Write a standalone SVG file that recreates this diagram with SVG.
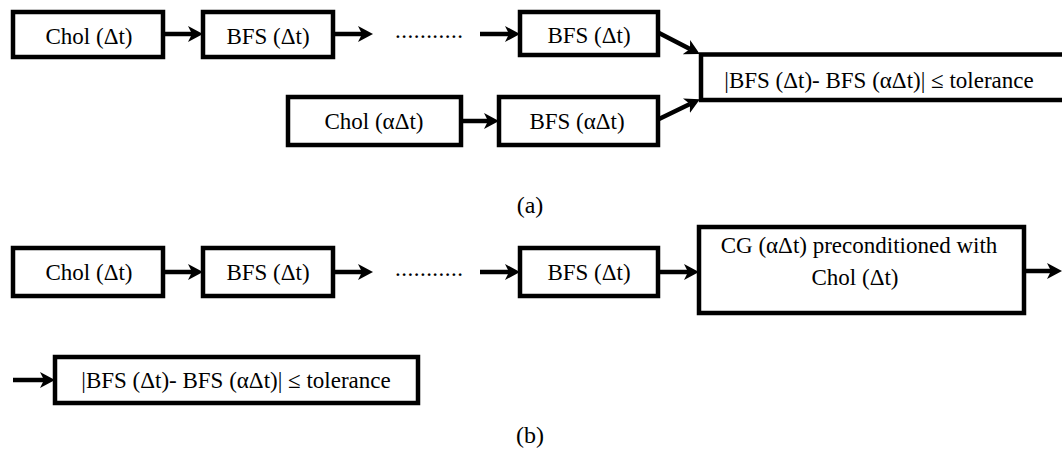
<svg xmlns="http://www.w3.org/2000/svg" width="1062" height="456" viewBox="0 0 1062 456" font-family="Liberation Serif, Times New Roman, serif">
<defs>
<marker id="ah" markerUnits="userSpaceOnUse" viewBox="0 -8 15 16" refX="4" refY="0" markerWidth="15" markerHeight="16" orient="auto">
<path d="M0,-8 L15,0 L0,8 L4,0 Z" fill="#000"/>
</marker>
</defs>
<style>
.box{fill:#fff;stroke:#000;stroke-width:4.5}
.t{font-size:23px;fill:#000;text-anchor:middle}
.lab{font-size:24px;fill:#000;text-anchor:middle}
.c{stroke:#000;stroke-width:4.5;fill:none;marker-end:url(#ah)}
</style>
<rect width="1062" height="456" fill="#fff"/>
<g id="connectors">
<line class="c" x1="163" y1="34" x2="192" y2="34"/>
<line class="c" x1="333" y1="34" x2="362" y2="34"/>
<line class="c" x1="480" y1="34" x2="509" y2="34"/>
<line class="c" x1="461" y1="121" x2="488" y2="121"/>
<line class="c" x1="659" y1="33" x2="690" y2="49"/>
<line class="c" x1="659" y1="119" x2="690" y2="104"/>
<line class="c" x1="163" y1="272" x2="192" y2="272"/>
<line class="c" x1="333" y1="272" x2="362" y2="272"/>
<line class="c" x1="480" y1="272" x2="509" y2="272"/>
<line class="c" x1="658" y1="272" x2="688" y2="272"/>
<line class="c" x1="1024" y1="271" x2="1051" y2="271"/>
<line class="c" x1="13" y1="380" x2="44" y2="380"/>
</g>
<g id="a_chol"><rect class="box" x="13" y="12" width="150" height="45"/><text class="t" font-family="Liberation Serif, serif" x="89" y="44">Chol (Δt)</text></g>
<g id="a_bfs1"><rect class="box" x="203" y="12" width="130" height="45"/><text class="t" font-family="Liberation Serif, serif" x="268" y="44">BFS (Δt)</text></g>
<g id="a_dots"><text class="t" font-family="Liberation Serif, serif" x="429" y="38" textLength="68" lengthAdjust="spacing">...........</text></g>
<g id="a_bfs3"><rect class="box" x="520" y="12" width="138" height="43"/><text class="t" font-family="Liberation Serif, serif" x="589" y="43">BFS (Δt)</text></g>
<g id="a_chola"><rect class="box" x="288" y="97" width="173" height="48"/><text class="t" font-family="Liberation Serif, serif" x="374" y="129">Chol (αΔt)</text></g>
<g id="a_bfsa"><rect class="box" x="499" y="97" width="159" height="48"/><text class="t" font-family="Liberation Serif, serif" x="577" y="129">BFS (αΔt)</text></g>
<g id="a_tol"><rect class="box" x="701" y="54.5" width="380" height="45.5"/><text class="t" font-family="Liberation Serif, serif" x="879" y="88">|BFS (Δt)- BFS (αΔt)| ≤ tolerance</text></g>
<g id="label_a"><text class="lab" font-family="Liberation Serif, serif" x="530" y="213">(a)</text></g>
<g id="b_chol"><rect class="box" x="13" y="248" width="150" height="48"/><text class="t" font-family="Liberation Serif, serif" x="89" y="280">Chol (Δt)</text></g>
<g id="b_bfs1"><rect class="box" x="203" y="248" width="130" height="48"/><text class="t" font-family="Liberation Serif, serif" x="268" y="280">BFS (Δt)</text></g>
<g id="b_dots"><text class="t" font-family="Liberation Serif, serif" x="429" y="276" textLength="68" lengthAdjust="spacing">...........</text></g>
<g id="b_bfs3"><rect class="box" x="520" y="248" width="138" height="48"/><text class="t" font-family="Liberation Serif, serif" x="589" y="280">BFS (Δt)</text></g>
<g id="b_cg"><rect class="box" x="699" y="227" width="325" height="86"/><text class="t" font-family="Liberation Serif, serif" x="859" y="253">CG (αΔt) preconditioned with</text><text class="t" font-family="Liberation Serif, serif" x="855" y="285">Chol (Δt)</text></g>
<g id="b_tol"><rect class="box" x="55" y="357" width="363" height="46"/><text class="t" font-family="Liberation Serif, serif" x="236" y="388">|BFS (Δt)- BFS (αΔt)| ≤ tolerance</text></g>
<g id="label_b"><text class="lab" font-family="Liberation Serif, serif" x="530" y="443">(b)</text></g>
</svg>
